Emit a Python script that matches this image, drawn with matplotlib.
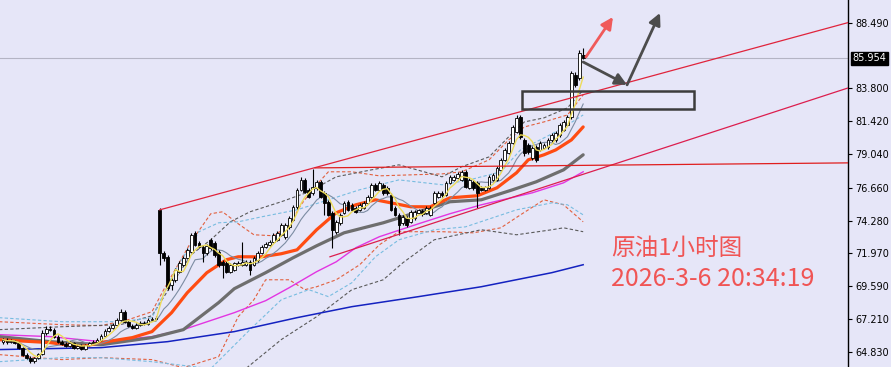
import numpy as np
import pandas as pd
import matplotlib
matplotlib.use('Agg')
import matplotlib.pyplot as plt
from matplotlib.patches import Rectangle

# 1H candles (oldest -> newest)
opens = [65.60, 65.74, 65.60, 65.67, 65.53, 65.17, 64.67, 64.45, 64.24, 64.45,
         64.74, 66.24, 66.53, 66.46, 65.96, 65.60, 65.46, 65.31, 65.53, 65.17,
         65.31, 65.10, 65.38, 65.53, 65.60, 65.74, 66.03, 66.39, 66.60, 66.82,
         67.18, 67.75, 67.03, 66.75, 66.60, 66.82, 66.96, 66.89, 67.18, 67.25,
         75.06, 71.98, 71.69, 69.69, 70.04, 70.62, 71.12, 71.62, 72.05, 73.41,
         72.70, 72.41, 71.98, 72.91, 72.70, 72.05, 71.33, 71.26, 70.62, 70.76,
         71.12, 71.12, 71.12, 71.33, 71.12, 71.48, 71.98, 72.41, 72.55, 72.77,
         72.91, 73.27, 73.13, 73.84, 74.35, 75.28, 76.50, 77.21, 76.50, 76.28,
         76.64, 77.07, 76.28, 75.64, 74.85, 73.49, 74.13, 74.85, 75.64, 75.42,
         75.21, 75.06, 75.21, 75.56, 76.00, 76.86, 76.50, 76.86, 76.64, 76.14,
         75.21, 74.70, 74.13, 74.49, 74.20, 74.49, 74.85, 74.99, 74.85, 74.70,
         75.56, 76.00, 76.28, 76.14, 77.00, 77.21, 77.36, 77.21, 77.79, 76.64,
         77.07, 77.00, 76.64, 76.50, 76.64, 77.21, 77.21, 77.93, 78.65, 79.15,
         79.87, 80.66, 81.73, 80.08, 79.72, 78.79, 79.58, 79.36, 79.51, 79.58,
         80.08, 80.08, 80.44, 80.80, 81.16, 81.73, 84.74, 84.53, 86.18]
closes = [65.74, 65.60, 65.67, 65.53, 65.17, 64.67, 64.45, 64.24, 64.45, 64.74,
          66.24, 66.53, 66.46, 65.96, 65.60, 65.46, 65.31, 65.53, 65.17, 65.31,
          65.10, 65.38, 65.53, 65.60, 65.74, 66.03, 66.39, 66.60, 66.82, 67.18,
          67.75, 67.03, 66.75, 66.60, 66.82, 66.96, 66.89, 67.18, 67.25, 67.32,
          71.98, 71.62, 69.47, 70.04, 70.76, 71.26, 71.62, 72.19, 73.27, 72.55,
          72.41, 71.98, 72.48, 72.34, 71.84, 71.12, 71.12, 70.62, 71.12, 71.26,
          71.26, 71.33, 71.33, 70.76, 71.62, 71.98, 72.41, 72.63, 72.77, 73.27,
          73.41, 73.99, 73.99, 74.49, 75.28, 76.50, 77.21, 76.35, 76.00, 76.71,
          77.07, 76.00, 75.56, 74.70, 73.63, 74.20, 74.70, 75.56, 75.06, 75.06,
          74.92, 75.42, 75.56, 76.00, 76.86, 76.50, 77.00, 76.28, 76.28, 75.06,
          74.70, 73.99, 74.56, 73.99, 74.92, 74.92, 75.06, 74.78, 75.21, 75.21,
          76.28, 76.28, 76.14, 77.00, 77.43, 77.43, 77.64, 77.79, 76.71, 77.21,
          76.64, 76.28, 76.50, 76.71, 77.43, 77.57, 78.07, 78.65, 79.36, 79.87,
          81.01, 81.66, 80.30, 79.15, 79.22, 79.51, 78.65, 79.87, 79.72, 80.08,
          80.44, 80.58, 81.16, 81.37, 81.73, 84.89, 84.03, 86.32, 85.954]
highs = [65.85, 65.85, 65.80, 65.75, 65.60, 65.25, 64.75, 64.55, 64.50, 64.80,
         66.40, 66.70, 66.70, 66.60, 66.05, 65.70, 65.55, 65.65, 65.60, 65.40,
         65.40, 65.45, 65.60, 65.70, 65.85, 66.15, 66.50, 66.75, 66.95, 67.30,
         67.95, 67.85, 67.15, 66.85, 66.95, 67.05, 67.05, 67.30, 67.35, 67.45,
         75.20, 72.10, 71.80, 70.20, 70.90, 71.40, 71.75, 72.30, 73.40, 73.55,
         72.85, 72.55, 72.60, 73.05, 72.85, 72.15, 71.45, 71.40, 71.25, 71.35,
         71.40, 72.77, 71.45, 71.45, 71.75, 72.10, 72.55, 72.75, 72.90, 73.40,
         73.55, 74.10, 74.10, 74.60, 75.40, 76.65, 77.43, 77.35, 76.65, 78.00,
         77.20, 77.20, 76.40, 75.75, 74.95, 74.30, 74.80, 75.70, 75.75, 75.55,
         75.35, 75.55, 75.70, 76.10, 77.00, 77.00, 77.15, 77.00, 76.75, 76.25,
         75.35, 74.80, 74.70, 74.60, 75.05, 75.05, 75.15, 75.10, 75.35, 75.35,
         76.40, 76.40, 76.40, 77.10, 77.55, 77.55, 77.75, 77.90, 77.90, 77.35,
         77.20, 77.10, 76.75, 76.80, 77.55, 77.70, 78.20, 78.80, 79.50, 80.00,
         81.15, 81.85, 81.90, 80.20, 79.85, 79.65, 79.70, 80.00, 79.85, 80.20,
         80.55, 80.70, 81.30, 81.50, 81.85, 85.05, 84.95, 86.54, 86.68]
lows = [65.45, 65.45, 65.50, 65.40, 65.05, 64.55, 64.35, 64.10, 64.05, 64.35,
        64.65, 66.10, 66.35, 65.85, 65.50, 65.35, 65.20, 65.25, 65.05, 65.05,
        65.00, 65.00, 65.30, 65.45, 65.50, 65.65, 65.95, 66.30, 66.50, 66.75,
        67.10, 66.95, 66.65, 66.50, 66.50, 66.75, 66.80, 66.80, 67.10, 67.20,
        71.12, 71.40, 69.30, 69.30, 69.90, 70.50, 71.00, 71.50, 71.95, 72.45,
        72.30, 71.33, 71.85, 72.20, 71.70, 70.95, 70.19, 70.50, 70.50, 70.65,
        71.00, 71.00, 71.00, 70.40, 71.00, 71.35, 71.90, 72.30, 72.45, 72.65,
        72.80, 73.15, 73.00, 73.70, 74.25, 75.15, 76.40, 76.25, 75.90, 76.15,
        76.50, 75.90, 74.70, 74.60, 72.34, 73.35, 74.00, 74.75, 74.95, 74.95,
        74.80, 74.95, 75.10, 75.45, 75.90, 76.40, 76.40, 76.15, 76.15, 74.95,
        74.60, 73.27, 73.95, 73.85, 74.10, 74.35, 74.75, 74.65, 74.75, 74.60,
        75.45, 75.90, 76.00, 76.05, 76.90, 77.10, 77.25, 77.10, 76.60, 76.55,
        76.50, 75.21, 76.40, 76.40, 76.55, 77.10, 77.10, 77.85, 78.55, 79.05,
        79.75, 80.55, 80.15, 78.95, 79.05, 78.65, 78.50, 79.25, 79.40, 79.45,
        79.95, 79.95, 80.30, 80.70, 81.05, 81.60, 83.85, 84.40, 85.85]

# moving averages (bar index, price)
ma_orange_x = [-1, 12, 20, 25, 33, 38, 43, 47, 52, 57, 60, 66, 71, 75, 80, 85, 90, 95, 99,
               104, 109, 114, 121, 126, 131, 134, 138, 141, 145, 148]
ma_orange_y = [65.74, 65.53, 65.24, 65.53, 65.89, 66.32, 67.68, 69.11, 70.55, 71.48, 71.69,
               71.69, 71.91, 72.19, 73.63, 74.85, 75.42, 75.78, 75.56, 75.28, 75.28, 75.92,
               76.07, 76.64, 77.72, 78.65, 79.01, 79.36, 80.08, 81.01]
ma_gray_x = [-1, 12, 25, 38, 46, 55, 59, 67, 74, 80, 87, 97, 106, 114, 122, 130, 136, 143, 148]
ma_gray_y = [65.96, 65.60, 65.38, 65.89, 66.46, 68.40, 69.40, 70.55, 71.62, 72.48, 73.41,
             74.13, 74.92, 75.64, 75.78, 76.50, 77.07, 77.93, 79.01]
ma_magenta_x = [-1, 12, 25, 38, 46, 59, 67, 73, 80, 85, 90, 96, 106, 114, 122, 135, 143, 148]
ma_magenta_y = [66.10, 65.96, 65.60, 65.96, 66.46, 67.68, 68.54, 69.47, 70.62, 71.33, 72.34,
                73.13, 74.06, 74.78, 75.42, 76.28, 77.00, 77.79]
ma_blue_x = [-1, 25, 42, 59, 75, 89, 106, 122, 140, 148]
ma_blue_y = [65.03, 65.17, 65.60, 66.32, 67.32, 68.11, 68.83, 69.54, 70.55, 71.12]

# band lines (dashed)
red_up_x = [-1, 15, 25, 32, 38, 41, 48, 53, 56, 60, 64, 69, 73, 76, 80, 83, 89, 96, 104, 112,
            117, 124, 129, 133, 138, 144, 148]
red_up_y = [67.03, 66.82, 66.75, 67.18, 67.75, 69.33, 72.77, 74.78, 74.92, 74.06, 73.27, 73.20,
            73.92, 75.42, 76.86, 77.79, 77.79, 77.50, 77.57, 77.64, 77.79, 78.65, 80.08, 81.01,
            81.37, 81.87, 83.31]
gray_up_x = [-1, 15, 30, 38, 43, 48, 53, 58, 63, 71, 78, 85, 94, 101, 112, 117, 124, 129, 133,
             138, 144, 148]
gray_up_y = [66.46, 66.67, 66.82, 67.46, 69.69, 71.84, 72.91, 74.20, 74.92, 75.64, 76.35, 77.43,
             77.93, 78.29, 77.43, 78.15, 78.86, 80.30, 81.37, 81.66, 82.38, 83.67]
blue_up_x = [-1, 15, 30, 38, 44, 50, 55, 60, 66, 75, 83, 91, 101, 112, 119, 127, 132, 137, 142, 148]
blue_up_y = [67.32, 67.03, 67.03, 67.32, 70.76, 73.49, 74.13, 74.20, 74.56, 75.06, 75.78, 76.50,
             77.21, 76.86, 77.21, 77.79, 79.36, 80.08, 80.80, 81.87]
red_lo_x = [-1, 15, 25, 38, 46, 55, 60, 64, 67, 73, 77, 80, 85, 91, 96, 101, 112, 120, 127, 132,
            138, 143, 148]
red_lo_y = [64.67, 64.31, 64.45, 64.31, 63.73, 64.52, 67.39, 68.61, 70.04, 70.04, 69.33, 69.54,
            70.04, 71.12, 72.55, 73.49, 73.49, 73.41, 73.77, 74.70, 75.78, 75.42, 74.20]
blue_lo_x = [-1, 15, 25, 38, 53, 63, 71, 78, 83, 89, 95, 101, 110, 118, 131, 140, 144, 148]
blue_lo_y = [64.16, 64.45, 64.45, 64.16, 63.66, 66.46, 68.61, 69.33, 68.83, 69.83, 71.69, 72.91,
             73.63, 73.84, 75.06, 75.56, 75.42, 74.70]
gray_lo_x = [-1, 61, 71, 80, 89, 97, 102, 110, 122, 131, 140, 143, 148]
gray_lo_y = [63.45, 63.45, 65.75, 67.39, 69.33, 70.04, 71.26, 72.91, 73.63, 73.27, 73.63, 73.77, 73.49]

# drawn objects (bar index, price)
upper_channel = [(40, 75.06), (215.6, 88.50)]
lower_channel = [(83.4, 71.69), (215.6, 83.81)]
flat_line = [(79.6, 78.07), (215.6, 78.43)]
zone = (132.4, 82.30, 176.3, 83.60)
red_arrow = [(148.7, 86.03), (155.6, 88.90)]
gray_arrow1 = [(148.0, 85.67), (159.2, 84.03)]
gray_arrow2 = [(159.2, 84.03), (167.6, 89.19)]

last_price = 85.954
ytick_vals = [88.490, 83.800, 81.420, 79.040, 76.660, 74.280, 71.970, 69.590, 67.210, 64.830]
title_text = '原油1小时图'
time_text = '2026-3-6 20:34:19'

bg = '#E6E6F8'
fig = plt.figure(figsize=(8.91, 3.67), dpi=100, facecolor=bg)
ax = fig.add_axes([0, 0, 848 / 891, 1], facecolor=bg)

o = np.array(opens)
c = np.array(closes)
h = np.array(highs)
l = np.array(lows)
x = np.arange(len(c))

ax.axhline(last_price, color='#B4B4C4', lw=0.8, zorder=1)

# bands
dash = dict(lw=0.8, dashes=(3, 2), zorder=2)
ax.plot(red_up_x, red_up_y, color='#E2603E', **dash)
ax.plot(red_lo_x, red_lo_y, color='#E2603E', **dash)
ax.plot(gray_up_x, gray_up_y, color='#5A5A5A', **dash)
ax.plot(gray_lo_x, gray_lo_y, color='#5A5A5A', **dash)
ax.plot(blue_up_x, blue_up_y, color='#78BCE0', **dash)
ax.plot(blue_lo_x, blue_lo_y, color='#78BCE0', **dash)

# slow averages
ax.plot(ma_blue_x, ma_blue_y, color='#1422C0', lw=1.1, zorder=3)
ax.plot(ma_magenta_x, ma_magenta_y, color='#E235E2', lw=1.0, zorder=3)
ax.plot(ma_gray_x, ma_gray_y, color='#6E6E6E', lw=2.3, zorder=3,
        solid_capstyle='round', solid_joinstyle='round')
ax.plot(ma_orange_x, ma_orange_y, color='#FF4C12', lw=2.3, zorder=3,
        solid_capstyle='round', solid_joinstyle='round')

# fast averages from the closes
s = pd.Series(c)
ax.plot(x, s.rolling(10, min_periods=1).mean(), color='#7C8CA2', lw=0.8, zorder=3)

# candles
ax.vlines(x, l, h, color='black', lw=0.8, zorder=4)
up = c >= o
ax.bar(x[up], c[up] - o[up], bottom=o[up], width=0.7, color='white',
       edgecolor='black', lw=0.6, zorder=5)
ax.bar(x[~up], c[~up] - o[~up], bottom=o[~up], width=0.7, color='black',
       edgecolor='black', lw=0.6, zorder=5)

ax.plot(x, s.rolling(5, min_periods=1).mean(), color='#EDDC5A', lw=1.0, zorder=6)

# trend lines
for pts, col in [(upper_channel, '#E0243C'), (lower_channel, '#DC1E4E'), (flat_line, '#E01E1E')]:
    ax.plot([p[0] for p in pts], [p[1] for p in pts], color=col, lw=0.9, zorder=6)

ax.add_patch(Rectangle((zone[0], zone[1]), zone[2] - zone[0], zone[3] - zone[1],
                       fill=False, edgecolor='#3C3C3C', lw=1.8, zorder=7))

for pts, col in [(red_arrow, '#F05A5A'), (gray_arrow1, '#4C4C4C'), (gray_arrow2, '#4C4C4C')]:
    ax.annotate('', xy=pts[1], xytext=pts[0],
                arrowprops=dict(arrowstyle='-|>,head_length=0.7,head_width=0.35',
                                color=col, lw=2.0, shrinkA=0, shrinkB=0), zorder=8)

ax.set_xlim(-0.77, 215.56)
ax.set_ylim(63.78, 90.12)

for sp in ['top', 'left', 'bottom']:
    ax.spines[sp].set_visible(False)
ax.spines['right'].set_color('black')
ax.spines['right'].set_linewidth(1.0)
ax.set_xticks([])
ax.yaxis.tick_right()
ax.set_yticks(ytick_vals)
ax.set_yticklabels(['%.3f' % v for v in ytick_vals])
ax.tick_params(axis='y', direction='out', length=3, width=0.8, pad=2,
               labelsize=7, colors='black')

ax.annotate('%.3f' % last_price, xy=(1, last_price), xycoords=('axes fraction', 'data'),
            xytext=(3, 0), textcoords='offset points', va='center', ha='left',
            fontsize=7, color='white',
            bbox=dict(boxstyle='square,pad=0.15', fc='black', ec='black'))

cjk = ['Noto Sans CJK SC', 'DejaVu Sans']
fig.text(611 / 891, 1 - 248 / 367, title_text, fontsize=17, color='#F05555',
         family=cjk, va='center', ha='left')
fig.text(611 / 891, 1 - 279 / 367, time_text, fontsize=18, color='#F05555',
         family=cjk, va='center', ha='left')

fig.savefig('out.png', dpi=100, facecolor=bg)
